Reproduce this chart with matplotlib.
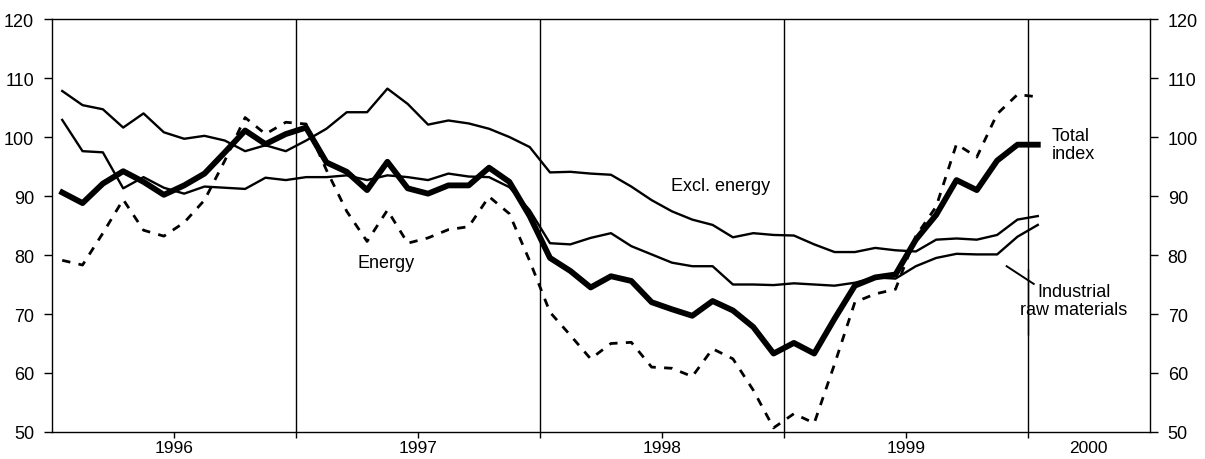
import numpy as np
import matplotlib
matplotlib.use('Agg')
import matplotlib.pyplot as plt

plt.rcParams['font.family'] = ['Liberation Sans', 'DejaVu Sans']

# monthly values, Jan 1996 - Jan 2000
excl_energy = [107.8, 105.4, 104.7, 101.6, 104.0, 100.8, 99.7, 100.2, 99.4, 97.6, 98.6, 97.6,
               99.4, 101.4, 104.2, 104.2, 108.2, 105.6, 102.1, 102.8, 102.3, 101.4, 100.0, 98.3,
               94.0, 94.1, 93.8, 93.6, 91.6, 89.3, 87.4, 86.0, 85.1, 83.0, 83.7, 83.4,
               83.3, 81.8, 80.5, 80.5, 81.2, 80.8, 80.6, 82.6, 82.8, 82.6, 83.4, 86.0, 86.6]
ind_raw = [102.9, 97.6, 97.4, 91.3, 93.2, 91.4, 90.4, 91.6, 91.4, 91.2, 93.1, 92.7,
           93.2, 93.2, 93.5, 92.7, 93.5, 93.2, 92.7, 93.8, 93.3, 93.2, 91.5, 87.6,
           82.0, 81.8, 82.9, 83.7, 81.5, 80.1, 78.7, 78.1, 78.1, 75.0, 75.0, 74.9,
           75.2, 75.0, 74.8, 75.3, 76.2, 76.0, 78.1, 79.5, 80.2, 80.1, 80.1, 83.1, 85.1]
total = [90.6, 88.8, 92.1, 94.2, 92.4, 90.2, 91.8, 93.8, 97.4, 101.1, 98.8, 100.5,
         101.6, 95.7, 94.1, 91.0, 95.8, 91.3, 90.4, 91.8, 91.8, 94.8, 92.4, 86.6,
         79.5, 77.3, 74.5, 76.4, 75.6, 72.0, 70.8, 69.7, 72.2, 70.6, 67.8, 63.3,
         65.1, 63.3, 69.2, 74.8, 76.2, 76.7, 82.6, 86.8, 92.7, 91.0, 96.0, 98.7, 98.7]
energy = [79.1, 78.3, 83.7, 89.4, 84.2, 83.2, 85.5, 89.3, 96.0, 103.3, 100.5, 102.5,
          102.2, 94.4, 87.4, 82.3, 87.6, 82.0, 82.9, 84.3, 84.8, 89.9, 87.0, 79.0,
          70.3, 66.4, 62.4, 65.0, 65.2, 61.0, 60.8, 59.4, 64.1, 62.4, 57.1, 50.7,
          53.1, 51.5, 61.5, 72.0, 73.4, 74.2, 83.2, 88.2, 98.8, 96.6, 103.9, 107.2, 106.8]

year_labels = ['1996', '1997', '1998', '1999', '2000']

x = 1996 + (np.arange(len(total)) + 0.5) / 12

fig = plt.figure(figsize=(12.05, 4.6), dpi=100)
ax = fig.add_axes([0.0432, 0.0587, 0.9108, 0.8978])

# year separators
for yr in [1997, 1998, 1999]:
    ax.axvline(yr, color='black', lw=1.0, zorder=1)
ax.vlines([2000, 2000], [50, 66.5], [77.6, 120], color='black', lw=1.0, zorder=1)

ax.plot(x, excl_energy, color='black', lw=1.7, zorder=3)
ax.plot(x, ind_raw, color='black', lw=1.7, zorder=3)
ax.plot(x, energy, color='black', lw=2.0, ls=(0, (3, 3)), zorder=3)
ax.plot(x, total, color='black', lw=4.2, zorder=4)

fs = 13
ax.text(1997.37, 78.8, 'Energy', ha='center', va='center', fontsize=fs)
ax.text(1998.74, 91.7, 'Excl. energy', ha='center', va='center', fontsize=fs)
ax.text(2000.1, 98.7, 'Total\nindex', ha='left', va='center', fontsize=fs, linespacing=1.05)
ax.text(2000.19, 72.3, 'Industrial\nraw materials', ha='center', va='center', fontsize=fs,
        linespacing=1.05)
ax.plot([1999.914, 2000.025], [78.1, 75.1], color='black', lw=1.4)

ax.set_xlim(1996, 2000.5)
ax.set_ylim(50, 120)
ax.set_yticks(np.arange(50, 121, 10))
ax.set_xticks([1996.5, 1997.5, 1998.5, 1999.5, 2000.25])
ax.set_xticklabels(year_labels)
ax.set_xticks([1997, 1998, 1999, 2000], minor=True)
ax.xaxis.get_major_ticks()[-1].tick1line.set_visible(False)
ax.tick_params(axis='both', which='both', direction='out', length=4, width=1,
               labelsize=fs)
ax.tick_params(axis='x', labelsize=12.5, pad=1.5)
ax.tick_params(axis='y', length=6, pad=7, right=True, labelright=True)
for s in ax.spines.values():
    s.set_linewidth(1.0)

fig.savefig('out.png', dpi=100)
